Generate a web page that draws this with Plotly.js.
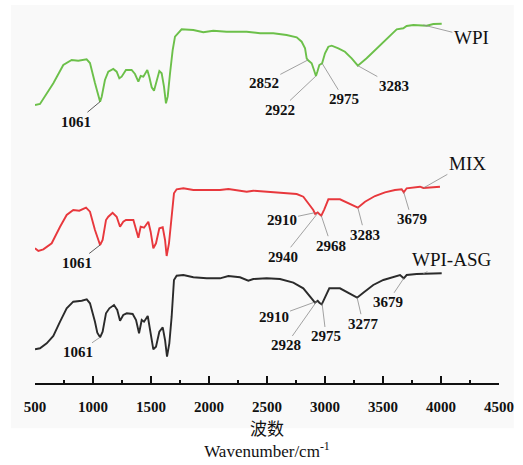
<!DOCTYPE html>
<html>
<head>
<meta charset="utf-8">
<script src="https://cdn.plot.ly/plotly-3.0.1.min.js"></script>
<style>
html,body{margin:0;padding:0;background:#fff;}
#chart{width:523px;height:465px;}
</style>
</head>
<body>
<div id="chart"></div>
<script>
// ---- Data (stacked, arbitrary units) ----
const seriesNames = ['WPI', 'MIX', 'WPI-ASG'];

const wpiWn = [500,543,658,744,816,873,945,974,1017,1061,1075,1103,1132,1175,1204,1227,1247,1284,1333,1362,1391,1411,1434,1448,1468,1485,1506,1526,1549,1572,1592,1612,1629,1644,1664,1687,1707,1750,1764,1865,1951,2037,2152,2325,2440,2554,2669,2756,2799,2828,2842,2852,2885,2905,2922,2934,2951,2975,3000,3029,3058,3115,3172,3230,3283,3359,3431,3503,3575,3618,3675,3704,3762,3848,3877,3934,4006];
const wpiVal = [278,279,299.7,318,323,322.3,323.7,320,300,281.3,286.3,303,311.3,314,311.3,304.7,306.3,313,313,309,301.3,307,306.3,309,313,306.3,295.7,292.3,303,312,309.7,296.3,279.7,286.3,309.7,333,346.3,351.3,353.7,353,350.7,352.3,351.3,351.3,349.7,349.7,348,345.7,341.3,334.7,324.7,323,319.7,313,307,311.3,318,319.7,329.7,336.3,337.3,334.7,331.3,324.7,317.3,324.7,333,341.3,349.7,353.7,354.7,357,358,358,357.3,359,359.3];

const mixWn = [500,529,572,644,716,773,830,882,940,974,1017,1061,1083,1112,1132,1169,1204,1233,1261,1284,1348,1362,1391,1411,1440,1477,1497,1520,1543,1572,1601,1621,1635,1655,1678,1698,1721,1779,1865,1980,2095,2167,2325,2382,2497,2640,2756,2813,2856,2899,2915,2937,2951,2968,2994,3029,3129,3172,3230,3283,3345,3431,3517,3603,3661,3679,3704,3776,3819,3848,3905,3991];
const mixVal = [134.7,132,133.7,139.7,156.3,168,173,172.3,175.3,171.3,153,138,143,163,166.3,170.3,166.3,156.3,161.3,163,163,158,145.3,156.3,155.3,161.3,151.3,134.7,139.7,154.7,155.7,143,127,139.7,169.7,189.7,193.7,194.7,193,193,193,194,191.3,192.3,191.3,190.7,189,186.3,179.7,173,169,170.5,169,167.3,173.7,183.7,183.7,181.3,178.7,175.3,181.3,187,190.7,193,193.7,190.7,194.7,195.3,196.3,195,195.7,196.3];

const asgWn = [500,543,601,658,716,773,830,903,946,974,1017,1037,1061,1083,1112,1141,1181,1209,1233,1261,1291,1342,1371,1397,1420,1440,1472,1497,1520,1543,1572,1601,1621,1638,1658,1678,1698,1721,1779,1865,1980,2095,2167,2267,2339,2382,2497,2612,2727,2813,2871,2914,2937,2951,2972,3000,3037,3129,3187,3244,3277,3330,3416,3503,3589,3647,3679,3704,3790,3905,4006];
const asgVal = [33.7,34.7,39.7,47,61.3,74.7,81.3,82.3,83.7,79.7,61.3,50.3,45.7,51.3,69.7,74.7,78,73,62.3,68,69.7,69,63,49.7,63,61.3,67,49.7,33.7,36.3,51.3,55.7,43,26.3,39.7,66.3,103,107.3,108,105.7,104.7,104.7,107,105.7,102.3,104,104.7,104,100.3,94.7,86.3,80.3,82.3,80.3,78.7,86.3,94.7,94.7,91.3,88,85.3,90.3,98,103,106.3,108,104.7,108,109,109.7,109.7];

// peak labels (wavenumbers, cm^-1)
const wpiPeaks = [1061, 2852, 2922, 2975, 3283];
const mixPeaks = [1061, 2910, 2940, 2968, 3283, 3679];
const asgPeaks = [1061, 2910, 2928, 2975, 3277, 3679];

const xTicks = [500,1000,1500,2000,2500,3000,3500,4000,4500];

// ---- Layout settings (label offsets in pixels, styles) ----
const wpiOffsets = [[-24,20],[-44,23],[-36,34],[22,36],[36,20]];
const mixOffsets = [[-23,18],[-33,7],[-35,44],[10,30],[7,27],[8,27]];
const asgOffsets = [[-22,15],[-41,15],[-31,44],[4,33],[6,26],[-16,24]];
const nameAnchorWn = 3848;
const nameOffsets = [[48,12],[44,-25],[28,-14]];
const colors = ['#6cc04a', '#e8383d', '#2b2b2b'];

const serif = 'Liberation Serif, serif';
const serifCJK = 'Liberation Serif, Noto Sans CJK SC, serif';

function interp(xs, ys, x) {
  for (let i = 0; i < xs.length - 1; i++) {
    if (x >= xs[i] && x <= xs[i+1]) {
      const t = (x - xs[i]) / (xs[i+1] - xs[i]);
      return ys[i] + t * (ys[i+1] - ys[i]);
    }
  }
  return ys[ys.length - 1];
}

const series = [
  {wn: wpiWn, val: wpiVal, peaks: wpiPeaks, offs: wpiOffsets},
  {wn: mixWn, val: mixVal, peaks: mixPeaks, offs: mixOffsets},
  {wn: asgWn, val: asgVal, peaks: asgPeaks, offs: asgOffsets}
];

const traces = series.map((s, i) => ({
  type: 'scatter', mode: 'lines', x: s.wn, y: s.val, name: seriesNames[i],
  line: {color: colors[i], width: 1.9},
  hoverinfo: 'x+name'
}));

const annotations = [];
series.forEach((s, i) => {
  s.peaks.forEach((p, j) => {
    const darkLeader = (p === 1061 && i < 2);
    annotations.push({
      x: p, y: interp(s.wn, s.val, p), xref: 'x', yref: 'y',
      text: '<b>' + p + '</b>', showarrow: true, arrowhead: 0, arrowwidth: 0.8,
      arrowcolor: darkLeader ? '#333' : '#8a8a8a',
      ax: s.offs[j][0], ay: s.offs[j][1], standoff: 0,
      font: {family: serif, size: 15, color: '#111'}
    });
  });
  annotations.push({
    x: nameAnchorWn, y: interp(s.wn, s.val, nameAnchorWn), xref: 'x', yref: 'y',
    text: seriesNames[i], showarrow: true, arrowhead: 0, arrowwidth: 0.8,
    arrowcolor: '#8a8a8a', ax: nameOffsets[i][0], ay: nameOffsets[i][1], standoff: 0,
    font: {family: serif, size: 19, color: '#111'}
  });
});

const layout = {
  width: 523, height: 465,
  margin: {l: 35, r: 24, t: 5, b: 82},
  paper_bgcolor: '#ffffff', plot_bgcolor: 'rgba(0,0,0,0)',
  font: {family: serif, color: '#111'},
  showlegend: false,
  xaxis: {
    range: [500, 4500], tickvals: xTicks, ticktext: xTicks.map(v => '<b>' + v + '</b>'),
    ticks: 'inside', ticklen: 7, tickwidth: 1.5, tickcolor: '#111',
    minor: {dtick: 250, tick0: 500, ticks: 'inside', ticklen: 3, tickwidth: 1.5, tickcolor: '#111', showgrid: false},
    showline: true, linecolor: '#111', linewidth: 1.5,
    showgrid: false, zeroline: false, ticklabelstandoff: 9,
    tickfont: {family: serif, size: 15, color: '#111'},
    title: {text: '波数<br>Wavenumber/cm<sup>-1</sup>', standoff: 9,
      font: {family: serifCJK, size: 17, color: '#111'}}
  },
  yaxis: {range: [0, 378], visible: false, fixedrange: true},
  shapes: [{type: 'rect', xref: 'paper', yref: 'paper', x0: -0.052, x1: 1.032, y0: -0.12, y1: 1.0,
    fillcolor: '#f9f9f9', line: {width: 0}, layer: 'below'}],
  annotations: annotations
};

Plotly.newPlot('chart', traces, layout, {displayModeBar: false, staticPlot: true});
</script>
</body>
</html>
